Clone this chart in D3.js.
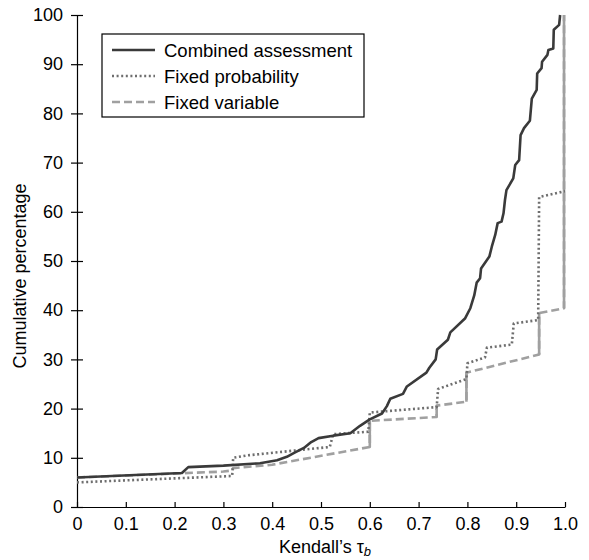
<!DOCTYPE html>
<html>
<head>
<meta charset="utf-8">
<script src="https://cdn.jsdelivr.net/npm/d3@7"></script>
<style>
  html, body { margin: 0; padding: 0; background: #fff; }
  svg { display: block; font-family: "Liberation Sans", Arial, sans-serif; }
</style>
</head>
<body>
<svg id="chart" width="589" height="560"></svg>
<script>
// ---- data ----
const xTicks = [0, 0.1, 0.2, 0.3, 0.4, 0.5, 0.6, 0.7, 0.8, 0.9, 1.0];
const xTickLabels = ["0", "0.1", "0.2", "0.3", "0.4", "0.5", "0.6", "0.7", "0.8", "0.9", "1.0"];
const yTicks = [0, 10, 20, 30, 40, 50, 60, 70, 80, 90, 100];

const seriesNames = ["Combined assessment", "Fixed probability", "Fixed variable"];

const combinedX = [0, 0.215, 0.228, 0.30, 0.375, 0.41, 0.43, 0.445, 0.465, 0.48, 0.495, 0.525, 0.56, 0.58, 0.60, 0.625, 0.635, 0.642, 0.668, 0.676, 0.716, 0.722, 0.735, 0.738, 0.76, 0.765, 0.795, 0.806, 0.814, 0.819, 0.826, 0.828, 0.845, 0.85, 0.857, 0.862, 0.87, 0.874, 0.877, 0.88, 0.894, 0.898, 0.906, 0.909, 0.916, 0.928, 0.932, 0.942, 0.943, 0.952, 0.953, 0.964, 0.966, 0.976, 0.977, 0.988, 0.99];
const combinedY = [6.0, 6.9, 8.1, 8.4, 8.9, 9.5, 10.2, 11.0, 12.0, 13.2, 14.0, 14.5, 15.0, 16.5, 17.8, 19.0, 20.5, 22.0, 23.0, 24.5, 27.3, 28.3, 30.0, 32.0, 34.0, 35.5, 38.3, 40.4, 43.0, 45.6, 46.5, 48.5, 50.9, 52.9, 55.3, 57.7, 58.0, 59.7, 62.4, 64.4, 66.8, 69.5, 70.5, 75.6, 77.0, 78.5, 83.0, 84.8, 88.1, 89.2, 90.5, 91.9, 92.9, 93.2, 97.0, 98.0, 100];

const fixedProbX = [0, 0.318, 0.32, 0.35, 0.518, 0.525, 0.597, 0.60, 0.737, 0.74, 0.798, 0.80, 0.836, 0.84, 0.891, 0.895, 0.945, 0.947, 1.0];
const fixedProbY = [5.0, 6.3, 10.0, 10.5, 12.2, 14.8, 15.3, 19.2, 20.3, 24.0, 26.0, 29.2, 30.4, 32.4, 33.0, 37.3, 38.0, 63.0, 64.2];

const fixedVarX = [0, 0.30, 0.316, 0.32, 0.40, 0.60, 0.60, 0.737, 0.737, 0.798, 0.798, 0.947, 0.947, 0.998, 0.998];
const fixedVarY = [6.0, 7.2, 7.4, 7.9, 8.6, 12.2, 17.5, 18.3, 20.6, 21.4, 27.3, 31.0, 39.4, 40.4, 100];

// ---- layout ----
const svg = d3.select("#chart");
const x = d3.scaleLinear().domain([0, 1]).range([77, 565]);
const y = d3.scaleLinear().domain([0, 100]).range([507, 15]);
const FONT = 18;

const styles = [
  { color: "#3a3a3a", dash: null, width: 2.6 },
  { color: "#6e6e6e", dash: "2,2.6", width: 2.6 },
  { color: "#a0a0a0", dash: "8,4", width: 2.6 }
];

// ---- axes ----
const yAxis = d3.axisLeft(y).tickValues(yTicks).tickSize(0).tickPadding(14).tickFormat(d3.format("d"));
const gy = svg.append("g").attr("transform", `translate(${x(0)},0)`).call(yAxis);
gy.select(".domain").attr("stroke", "#000").attr("stroke-width", 1.2);
gy.selectAll(".tick line").remove();
gy.selectAll(".tick").append("line").attr("x1", -6).attr("x2", 6).attr("stroke", "#000").attr("stroke-width", 1.2);
gy.selectAll(".tick text").attr("font-size", FONT).attr("fill", "#000").attr("font-family", "Liberation Sans, Arial, sans-serif");

const xAxis = d3.axisBottom(x).tickValues(xTicks).tickSize(0).tickPadding(10).tickFormat((d, i) => xTickLabels[i]);
const gx = svg.append("g").attr("transform", `translate(0,${y(0)})`).call(xAxis);
gx.select(".domain").attr("stroke", "#000").attr("stroke-width", 1.2);
gx.selectAll(".tick line").remove();
gx.selectAll(".tick").append("line").attr("y1", 0).attr("y2", -5).attr("stroke", "#000").attr("stroke-width", 1.2);
gx.selectAll(".tick text").attr("font-size", FONT).attr("fill", "#000").attr("font-family", "Liberation Sans, Arial, sans-serif");

// axis titles
svg.append("text")
  .attr("transform", `translate(26,276) rotate(-90)`)
  .attr("text-anchor", "middle")
  .attr("font-size", FONT)
  .text("Cumulative percentage");

const xt = svg.append("text")
  .attr("x", 279)
  .attr("y", 553)
  .attr("text-anchor", "start")
  .attr("font-size", 18);
xt.append("tspan").text("Kendall\u2019s \u03C4");
xt.append("tspan").attr("font-size", 13).attr("font-style", "italic").attr("dy", 3).text("b");

// ---- lines ----
const line = d3.line().x(d => x(d[0])).y(d => y(d[1]));
const series = [
  d3.zip(combinedX, combinedY),
  d3.zip(fixedProbX, fixedProbY),
  d3.zip(fixedVarX, fixedVarY)
];

// draw in reverse so combined is on top
[2, 1, 0].forEach(i => {
  const s = styles[i];
  svg.append("path")
    .datum(series[i])
    .attr("d", line)
    .attr("fill", "none")
    .attr("stroke", s.color)
    .attr("stroke-width", s.width)
    .attr("stroke-linejoin", "round")
    .attr("stroke-dasharray", s.dash);
  if (i === 2) {
    // vertical jumps of the fixed-variable curve render as solid strokes
    const verts = [];
    for (let k = 0; k < series[i].length - 1; k++) {
      if (series[i][k][0] === series[i][k + 1][0]) verts.push([series[i][k], series[i][k + 1]]);
    }
    svg.append("g").selectAll("line").data(verts).join("line")
      .attr("x1", d => x(d[0][0])).attr("y1", d => y(d[0][1]))
      .attr("x2", d => x(d[1][0])).attr("y2", d => y(d[1][1]))
      .attr("stroke", s.color).attr("stroke-width", s.width);
  }
});

// ---- legend ----
const lg = svg.append("g").attr("transform", "translate(102,34)");
lg.append("rect").attr("x", 0).attr("y", 0).attr("width", 262).attr("height", 83)
  .attr("fill", "#fff").attr("stroke", "#000").attr("stroke-width", 1.2);
seriesNames.forEach((name, i) => {
  const yy = 16 + i * 26;
  lg.append("line").attr("x1", 10).attr("x2", 53).attr("y1", yy).attr("y2", yy)
    .attr("stroke", styles[i].color).attr("stroke-width", 2.4)
    .attr("stroke-dasharray", styles[i].dash);
  lg.append("text").attr("x", 62).attr("y", yy + 6.5).attr("font-size", 18.5).text(name);
});
</script>
</body>
</html>
